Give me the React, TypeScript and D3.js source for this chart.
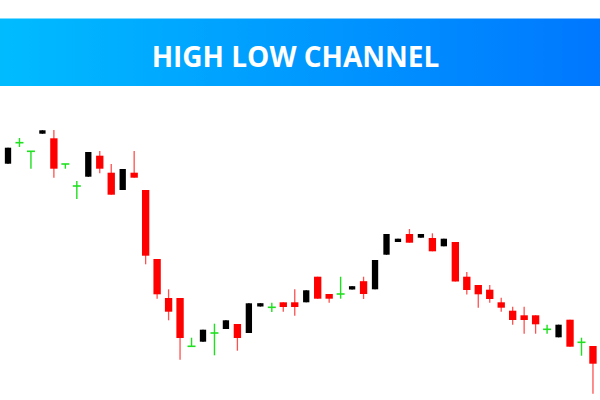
import React from "react";
import * as d3 from "d3";

const TITLE = "HIGH LOW CHANNEL";
const opens = [23.63, 25.73, 24.87, 26.63, 26.17, 23.6, 21.4, 22.33, 24.43, 22.73, 21.0, 22.73, 21.0, 14.1, 10.2, 10.2, 5.37, 5.83, 6.7, 7.1, 7.6, 6.7, 9.35, 9.27, 9.77, 9.77, 9.77, 12.33, 10.6, 10.6, 11.05, 11.88, 11.07, 14.53, 15.8, 16.6, 16.23, 16.2, 15.37, 15.8, 12.33, 11.5, 11.03, 9.77, 8.93, 8.47, 8.47, 7.07, 6.27, 8.03, 5.77, 5.4];
const highs = [25.23, 26.2, 24.87, 26.97, 27.0, 23.6, 21.9, 24.8, 24.9, 23.6, 23.1, 24.9, 21.0, 14.1, 11.07, 10.2, 6.23, 7.03, 7.63, 7.97, 7.6, 9.67, 9.68, 9.73, 9.77, 11.07, 10.97, 12.33, 10.6, 12.33, 11.38, 12.33, 14.0, 16.6, 16.13, 17.1, 16.6, 16.67, 16.13, 15.8, 12.8, 11.5, 11.5, 10.23, 9.33, 9.33, 8.47, 7.53, 7.53, 8.03, 6.23, 5.4];
const lows = [23.63, 25.3, 23.13, 26.63, 22.23, 23.13, 20.1, 22.33, 22.67, 20.53, 21.0, 22.23, 13.57, 10.13, 7.97, 4.03, 5.37, 5.83, 4.47, 7.1, 4.93, 6.7, 9.35, 8.8, 8.83, 8.43, 9.77, 10.13, 9.73, 10.13, 11.05, 10.1, 11.07, 14.53, 15.8, 15.73, 16.23, 14.87, 15.37, 11.85, 10.55, 9.23, 9.73, 8.83, 7.53, 6.63, 6.63, 6.63, 6.27, 5.33, 4.43, 0.63];
const closes = [25.23, 25.73, 24.87, 26.97, 23.13, 23.6, 21.4, 24.8, 23.13, 20.53, 23.1, 22.23, 14.43, 10.57, 8.83, 6.2, 5.37, 7.03, 6.7, 7.97, 6.2, 9.67, 9.68, 9.27, 9.3, 9.3, 10.97, 10.13, 10.13, 10.6, 11.38, 10.6, 14.0, 16.6, 16.13, 15.73, 16.6, 14.87, 16.13, 11.85, 11.0, 10.57, 10.1, 9.23, 8.0, 8.0, 7.57, 7.07, 7.53, 5.33, 5.77, 3.63];

const W = 600;
const H = 400;

export default function App() {
  const idx = d3.range(opens.length);
  const x = d3
    .scaleBand<number>()
    .domain(idx)
    .range([2.27, 598.7])
    .paddingInner(0.36)
    .paddingOuter(0.18);
  const y = d3.scaleLinear().domain([0, 40]).range([H, 0]);
  const bw = x.bandwidth();

  return (
    <svg
      width={W}
      height={H}
      style={{ position: "absolute", left: 0, top: 0, background: "#fff" }}
    >
      <defs>
        <linearGradient id="bannerGrad" x1="0" x2="1" y1="0" y2="0">
          <stop offset="0" stopColor="#00bcff" />
          <stop offset="1" stopColor="#0077ff" />
        </linearGradient>
      </defs>
      <rect x={0} y={18.5} width={W} height={67.5} fill="url(#bannerGrad)" />
      <text
        x={295.5}
        y={66.5}
        textAnchor="middle"
        fill="#ffffff"
        fontFamily="'Open Sans', sans-serif"
        fontWeight={700}
        fontSize={28}
      >
        {TITLE}
      </text>
      {idx.map((i) => {
        const o = opens[i];
        const c = closes[i];
        const cx = (x(i) as number) + bw / 2;
        const hi = y(highs[i]);
        const lo = y(lows[i]);
        if (o === c) {
          const green = "#1ee01e";
          return (
            <g key={i}>
              <line x1={cx} x2={cx} y1={hi} y2={lo} stroke={green} strokeWidth={1.4} />
              <line x1={cx - 4} x2={cx + 4} y1={y(o)} y2={y(o)} stroke={green} strokeWidth={1.6} />
            </g>
          );
        }
        const up = c > o;
        const col = up ? "#000000" : "#ff0000";
        const top = y(Math.max(o, c));
        const bot = y(Math.min(o, c));
        return (
          <g key={i}>
            <line
              x1={cx}
              x2={cx}
              y1={hi}
              y2={lo}
              stroke={up ? "#000" : "#ff5050"}
              strokeWidth={1.3}
            />
            <rect
              x={cx - (up ? bw * 0.43 : bw / 2)}
              y={top}
              width={up ? bw * 0.86 : bw}
              height={Math.max(1, bot - top)}
              fill={col}
            />
          </g>
        );
      })}
    </svg>
  );
}
